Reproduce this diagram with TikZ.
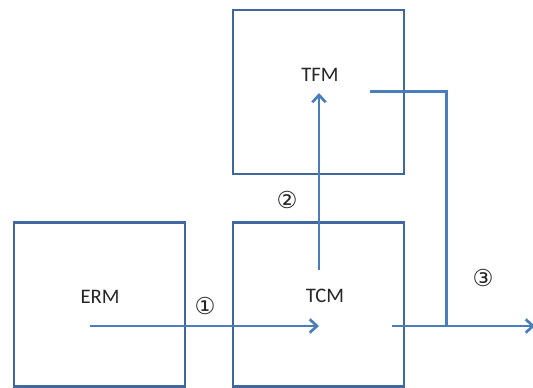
\documentclass[tikz,border=0pt]{standalone}
\usepackage{fontspec}
\setmainfont{Carlito}
\newfontfamily\circfont{DejaVu Sans}
\usetikzlibrary{arrows.meta}
\definecolor{boxblue}{HTML}{41679D}
\definecolor{lineblue}{HTML}{4A7EBB}
\tikzset{
  module/.style={draw=boxblue, line width=1.6pt, minimum width=128.6pt, minimum height=123pt, inner sep=0pt},
  modlabel/.style={font=\fontsize{15.5}{17}\selectfont, text=black!85},
  numlabel/.style={font=\circfont\fontsize{17.5}{19}\selectfont, text=black!85},
  flow/.style={draw=lineblue, line width=2pt},
  flowarrow/.style={flow, -{Straight Barb[length=5.5pt, width=10pt, line width=2pt]}},
}
\begin{document}
\begin{tikzpicture}[x=0.75pt, y=-0.75pt]
\useasboundingbox (0,0) rectangle (533,388);
% boxes
\node[module] (erm) at (99.5,304.5) {};
\node[module] (tcm) at (318.5,304.5) {};
\node[module] (tfm) at (318.5,92) {};
% labels
\node[modlabel] (ermt) at (100,297) {ERM};
\node[modlabel] (tcmt) at (325,296) {TCM};
\node[modlabel] (tfmt) at (320,75) {TFM};
\node[numlabel] (n1) at (205,306) {①};
\node[numlabel] (n2) at (287,200) {②};
\node[numlabel] (n3) at (483,278) {③};
% connection points
\coordinate (a1s) at (90,326);
\coordinate (a1e) at (319,326);
\coordinate (a2s) at (319,270.5);
\coordinate (a2e) at (319,93);
\coordinate (c3s) at (370,91.5);
\coordinate (c3k) at (446.5,91.5);
\coordinate (c3j) at (446.5,326);
\coordinate (c4s) at (391.5,326);
\coordinate (c4e) at (535,326);
% connectors
\draw[flowarrow] (a1s) -- (a1e);
\draw[flowarrow] (a2s) -- (a2e);
\draw[flow] (c3s) -- (c3k) -- (c3j);
\draw[flowarrow] (c4s) -- (c4e);
\end{tikzpicture}
\end{document}
